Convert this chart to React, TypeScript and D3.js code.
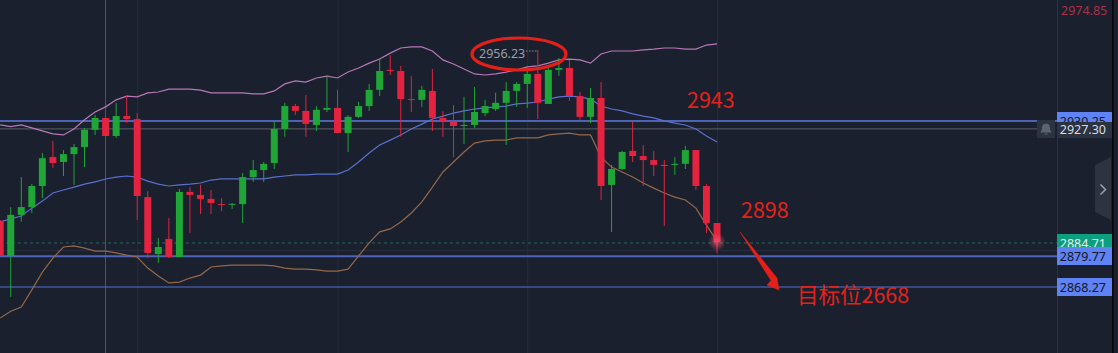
import React from "react";
import * as d3 from "d3";

const opens = [2892.8,2879.8,2895.0,2897.9,2905.7,2916.4,2914.6,2917.5,2920.1,2926.5,2930.9,2924.2,2931.6,2930.5,2901.6,2880.5,2886.1,2879.4,2903.5,2902.4,2900.9,2899.0,2898.8,2899.0,2909.0,2911.6,2914.2,2926.8,2935.3,2933.5,2928.3,2933.9,2934.6,2925.3,2931.3,2935.3,2941.3,2948.7,2948.3,2937.9,2937.6,2940.9,2930.9,2929.4,2927.9,2928.3,2932.7,2934.2,2936.5,2940.9,2943.5,2947.2,2936.1,2948.7,2949.4,2939.0,2931.3,2938.3,2906.1,2912.0,2918.7,2916.8,2915.3,2913.5,2913.5,2913.9,2919.0,2905.7,2892.0];
const highs = [2893.1,2897.9,2909.0,2906.4,2917.9,2922.4,2919.0,2921.3,2927.2,2932.0,2930.9,2936.5,2939.4,2932.7,2903.8,2886.4,2893.8,2904.6,2905.3,2906.1,2904.2,2901.2,2899.4,2910.5,2915.3,2914.6,2929.4,2936.5,2936.1,2939.4,2935.3,2946.5,2941.3,2932.0,2936.8,2943.5,2953.1,2954.2,2950.2,2946.5,2942.8,2949.0,2933.5,2935.7,2938.7,2942.4,2937.6,2940.2,2944.2,2944.2,2950.2,2956.1,2949.4,2953.1,2952.4,2940.5,2942.0,2944.2,2913.5,2918.7,2929.8,2920.9,2918.7,2915.3,2916.4,2920.5,2919.0,2906.4,2892.0];
const lows = [2879.8,2864.6,2892.5,2895.7,2901.2,2912.4,2909.4,2906.1,2912.7,2924.6,2924.2,2923.5,2929.0,2893.1,2879.0,2877.2,2879.0,2879.4,2888.3,2895.3,2895.3,2896.4,2897.2,2892.0,2907.2,2907.2,2912.0,2923.9,2932.0,2923.9,2926.1,2933.1,2925.3,2918.3,2930.9,2933.5,2939.0,2946.8,2923.9,2933.1,2935.0,2926.1,2923.9,2916.4,2921.3,2927.2,2931.6,2933.5,2920.9,2935.0,2934.6,2930.5,2936.1,2946.5,2937.2,2930.2,2929.0,2900.5,2888.7,2911.6,2914.6,2905.7,2909.4,2890.9,2909.8,2912.0,2904.2,2888.3,2880.9];
const closes = [2879.8,2895.0,2897.9,2905.7,2916.0,2914.2,2917.5,2920.1,2926.5,2930.9,2924.2,2931.6,2930.5,2902.0,2880.9,2883.1,2879.4,2903.5,2902.4,2900.9,2899.4,2898.7,2899.1,2909.0,2911.6,2913.9,2926.8,2935.3,2933.5,2928.7,2933.9,2934.6,2925.3,2931.3,2935.3,2941.3,2948.3,2948.3,2937.9,2937.6,2941.3,2930.9,2929.8,2927.9,2928.3,2933.1,2935.3,2936.5,2940.9,2943.5,2947.2,2936.5,2948.7,2949.4,2939.0,2931.3,2938.3,2905.7,2912.0,2918.3,2916.8,2915.3,2913.5,2913.1,2913.9,2919.0,2905.7,2892.0,2884.9];
const upperBand = [2928.3,2927.7,2928.3,2927.2,2926.1,2925.0,2924.6,2926.8,2930.2,2933.1,2935.0,2937.6,2939.0,2938.7,2940.2,2940.5,2941.6,2941.6,2941.6,2941.2,2940.2,2940.2,2940.2,2940.2,2939.8,2939.8,2940.9,2943.5,2944.6,2944.2,2945.7,2946.4,2945.7,2947.9,2949.4,2951.2,2952.7,2954.9,2956.8,2957.2,2957.2,2955.7,2952.4,2950.9,2949.0,2947.2,2946.8,2947.2,2947.9,2948.7,2949.8,2950.2,2951.2,2952.4,2952.7,2952.4,2951.2,2954.6,2955.7,2955.7,2955.7,2956.1,2956.4,2956.8,2956.8,2956.4,2956.4,2957.9,2958.3];
const middleBand = [2892.4,2893.5,2894.6,2897.5,2900.1,2903.1,2904.2,2905.3,2906.4,2907.2,2908.3,2909.0,2909.4,2909.0,2907.5,2906.4,2905.7,2906.1,2906.4,2906.8,2907.9,2908.3,2908.3,2908.3,2908.3,2908.3,2909.0,2909.4,2909.8,2909.8,2910.1,2910.1,2910.1,2911.6,2914.6,2917.9,2920.9,2922.7,2924.6,2926.8,2928.6,2930.5,2931.6,2932.7,2933.5,2934.2,2934.6,2935.0,2935.3,2936.1,2936.4,2936.8,2937.9,2938.7,2939.0,2938.7,2937.9,2935.3,2934.2,2933.5,2932.4,2931.6,2930.9,2929.8,2929.0,2928.3,2926.8,2924.2,2922.0];
const lowerBand = [2856.8,2859.3,2860.9,2867.2,2873.8,2879.0,2883.1,2883.5,2882.7,2881.6,2881.6,2880.9,2880.1,2879.4,2875.3,2872.4,2869.8,2870.1,2871.6,2872.7,2875.7,2876.1,2876.4,2876.4,2876.4,2876.4,2876.1,2875.3,2874.9,2874.9,2874.6,2874.2,2874.2,2874.9,2879.8,2884.6,2888.7,2889.8,2892.4,2895.7,2899.8,2905.3,2910.9,2914.6,2918.3,2921.6,2922.4,2922.7,2922.7,2923.5,2923.5,2923.5,2924.6,2925.0,2925.3,2924.6,2924.6,2916.4,2912.7,2910.9,2909.0,2906.8,2904.9,2903.1,2901.6,2900.5,2897.5,2891.2,2885.3];
const blueLevels = [2930.25, 2879.77, 2868.27];
const currentPrice = 2884.71;
const crossPrice = 2927.3;
const axisTop = "2974.85";
const peakLabel = "2956.23";
const notes = ["2943", "2898", "目标位2668"];
const gridIdx = [13, 32, 50, 68];

const W = 1118, H = 353;
const x = d3.scaleLinear().domain([0, 68]).range([0.2, 717]);
const y = d3.scaleLinear().domain([2879.77, 2974.58]).range([256, 0]);
// The platform's price tags sit on a slightly different pixel mapping than the candles.
const levelY = d3.scaleLinear().domain([2868.27, 2930.25]).range([287, 121]);
const UP = "#1fa637", DOWN = "#e3233f";
const BG = "#1a202d";
const line = d3.line<number>().x((_, i) => x(i)).y((d) => y(d));
const FONT = "'Noto Sans CJK SC','Noto Sans',sans-serif";
const LAB = "'Noto Sans','Liberation Sans',sans-serif";
const AX0 = 1057, AX1 = 1112;

function Tag({ p, bg, fg, top, h, text }: any) {
  return (
    <g>
      <rect x={AX0} y={top} width={AX1 - AX0} height={h} fill={bg} />
      <text x={1106} y={levelY(p) + 5} textAnchor="end" fontSize={12.5} fill={fg} fontFamily={LAB}>{text}</text>
    </g>
  );
}

export default function App() {
  return (
    <svg width={W} height={H} viewBox={`0 0 ${W} ${H}`} style={{ position: "fixed", left: 0, top: 0, display: "block" }}>
      <defs>
        <radialGradient id="glow">
          <stop offset="0%" stopColor="#ff5a78" stopOpacity={0.7} />
          <stop offset="100%" stopColor="#ff5a78" stopOpacity={0} />
        </radialGradient>
      </defs>
      <rect width={W} height={H} fill={BG} />
      {gridIdx.map((i) => (
        <line key={i} x1={x(i) + 0.5} x2={x(i) + 0.5} y1={0} y2={H} stroke="#262d3b" strokeWidth={1} />
      ))}
      <line x1={0} x2={AX0} y1={250.5} y2={250.5} stroke="#272d3a" />
      <line x1={105.5} x2={105.5} y1={0} y2={H} stroke="#4f5560" strokeWidth={1} />
      <line x1={0} x2={1037} y1={levelY(crossPrice)} y2={levelY(crossPrice)} stroke="#5d6068" strokeWidth={1} />
      <line x1={0} x2={AX0} y1={levelY(currentPrice)} y2={levelY(currentPrice)} stroke="#1f6b5a" strokeWidth={1} strokeDasharray="3 3" />
      {blueLevels.map((p, i) => (
        <line key={p} x1={0} x2={AX0} y1={levelY(p)} y2={levelY(p)} stroke={i === 2 ? "#5273d0" : "#4c63b8"} strokeWidth={i === 2 ? 1.1 : 2} />
      ))}

      <path d={line(upperBand) ?? ""} fill="none" stroke="#b877b8" strokeWidth={1.2} />
      <path d={line(middleBand) ?? ""} fill="none" stroke="#5a70cf" strokeWidth={1.2} />
      <path d={line(lowerBand) ?? ""} fill="none" stroke="#94684a" strokeWidth={1.2} />

      {closes.map((c, i) => {
        const o = opens[i];
        const col = c >= o ? UP : DOWN;
        const top = y(Math.max(o, c));
        const bot = y(Math.min(o, c));
        return (
          <g key={i}>
            <line x1={x(i)} x2={x(i)} y1={y(highs[i])} y2={y(lows[i])} stroke={col} strokeWidth={1} />
            <rect x={x(i) - 3.5} y={top} width={7} height={Math.max(bot - top, 1)} fill={col} />
          </g>
        );
      })}
      <circle cx={x(68)} cy={levelY(currentPrice) - 1} r={9} fill="url(#glow)" />

      <line x1={AX0 + 0.5} x2={AX0 + 0.5} y1={0} y2={H} stroke="#2b3240" />
      <rect x={AX1} y={0} width={1.6} height={H} fill="#07080a" />

      <text x={1061} y={15} fontSize={12.5} fill="#a8324a" fontFamily={LAB}>{axisTop}</text>
      <Tag p={blueLevels[0]} bg="#5f82f5" fg="#111726" top={112} h={12} text="2930.25" />
      <rect x={1037} y={120} width={18} height={18} fill="#2b3240" />
      <path d="M1046 123.5c-2.8 0-4 2-4 4.5 0 2.5-1.2 3.5-1.8 4.5h11.6c-.6-1-1.8-2-1.8-4.5 0-2.5-1.2-4.5-4-4.5zM1044.3 133.5a1.8 1.8 0 0 0 3.4 0z" fill="#5c6370" />
      <Tag p={crossPrice} bg="#2b3240" fg="#d8dbe0" top={122} h={16} text={crossPrice.toFixed(2)} />
      <path d={`M${AX1 - 1} 157L1095 165V212L${AX1 - 1} 220Z`} fill="#2d3340" />
      <path d="M1100.5 184.5L1105.5 189.5L1100.5 194.5" fill="none" stroke="#9aa0a8" strokeWidth={1.5} />
      <Tag p={currentPrice} bg="#0d9e80" fg="#e8f0ee" top={234} h={14} text={currentPrice.toFixed(2)} />
      <Tag p={blueLevels[1]} bg="#5f82f5" fg="#111726" top={247} h={18} text={blueLevels[1].toFixed(2)} />
      <Tag p={blueLevels[2]} bg="#5f82f5" fg="#111726" top={278} h={18} text={blueLevels[2].toFixed(2)} />

      <text x={479} y={58} fontSize={12.5} fill="#9a9fa8" fontFamily={LAB}>{peakLabel}</text>
      <line x1={526} x2={538} y1={51} y2={51} stroke="#8a8f98" strokeDasharray="1.5 1.5" />
      <ellipse cx={519} cy={54} rx={47} ry={16} fill="none" stroke="#e5201a" strokeWidth={3.2} />

      <text x={687} y={108} fontSize={21.5} fill="#e2231c" fontFamily={FONT}>{notes[0]}</text>
      <text x={741} y={218} fontSize={21.5} fill="#e2231c" fontFamily={FONT}>{notes[1]}</text>
      <text x={797} y={303} fontSize={21.5} fill="#e2231c" fontFamily={FONT}>{notes[2]}</text>
      <path d="M740 232L777 278L779 290L767 285L771 280.5Z" fill="#e5201a" stroke="#e5201a" strokeWidth={0.5} />
    </svg>
  );
}
